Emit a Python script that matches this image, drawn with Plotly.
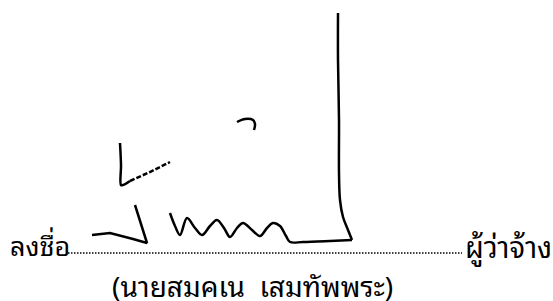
import plotly.graph_objects as go

# ---- data: signature strokes (image pixel coordinates, y down) ----
vertical_x = [338, 338, 339, 339, 340, 343, 348, 352]
vertical_y = [13, 60, 120, 173, 200, 217, 230, 240]

wave_x = [170, 175, 180, 187, 195, 202, 210, 217, 224, 230, 237, 243, 252, 260, 267, 273, 280, 286, 290, 303, 330, 352]
wave_y = [213, 226, 235, 218, 228, 235, 226, 220, 228, 237, 228, 223, 230, 236, 228, 223, 226, 236, 242, 242, 241, 240]

hookj_x = [92, 110, 133, 147, 135]
hookj_y = [235, 233, 239, 243, 205]

stem_x = [120, 121, 121, 123, 130]
stem_y = [143, 165, 185, 185, 181]

diag_x = [130, 150, 170]
diag_y = [181, 172, 162]

curl_x = [237, 245, 253, 255, 254]
curl_y = [122, 119, 120, 124, 130]

dotline_x = [68, 462]
dotline_y = [253, 253]

labels = ["ลงชื่อ", "ผู้ว่าจ้าง", "(นายสมคเน  เสมทัพพระ)"]
label_x = [8, 463, 252]
label_y = [243, 245, 284]
label_size = [27, 29, 28]

FONT = "Noto Sans Thai Looped, Loma, Garuda, Noto Sans Thai, Tlwg Typo, Kinnari, Noto Sans, DejaVu Sans, sans-serif"

fig = go.Figure()

def stroke(x, y, shape="linear", width=2.5, dash="solid"):
    fig.add_trace(go.Scatter(x=x, y=y, mode="lines",
                             line=dict(color="black", width=width, shape=shape, dash=dash),
                             hoverinfo="skip", showlegend=False))

stroke(vertical_x, vertical_y, shape="spline")
stroke(wave_x, wave_y, shape="spline")
stroke(hookj_x, hookj_y)
stroke(stem_x, stem_y, shape="spline")
stroke(diag_x, diag_y, dash="5px,2px")
stroke(curl_x, curl_y, shape="spline")
stroke(dotline_x, dotline_y, width=1.6, dash="1.5px,1.5px")

anchors = ["left", "left", "center"]
for t, x, y, a, s in zip(labels, label_x, label_y, anchors, label_size):
    fig.add_annotation(x=x, y=y, text=t, xref="x", yref="y", showarrow=False,
                       xanchor=a, yanchor="middle",
                       font=dict(family=FONT, size=s, color="black"))

fig.update_layout(
    width=553, height=301,
    margin=dict(l=0, r=0, t=0, b=0),
    paper_bgcolor="white", plot_bgcolor="white",
    xaxis=dict(range=[0, 553], visible=False, fixedrange=True),
    yaxis=dict(range=[301, 0], visible=False, fixedrange=True),
)

fig.write_html("out.html", config={"displayModeBar": False, "staticPlot": True},
               post_script="document.body.style.margin='0';document.body.style.overflow='hidden';")
